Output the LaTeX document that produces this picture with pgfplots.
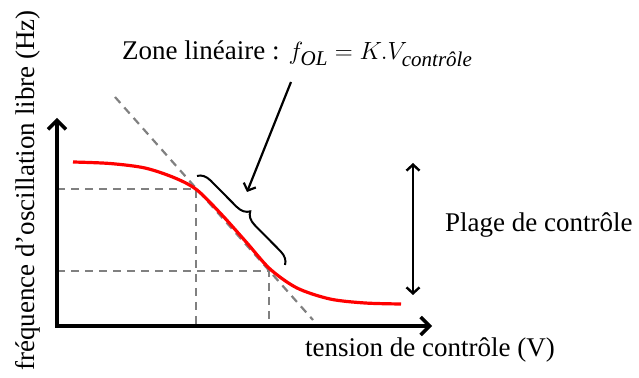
\documentclass[border=0pt]{standalone}
\usepackage{fontspec}
\setmainfont{Liberation Serif}
\usepackage{amsmath}
\usepackage{pgfplots}
\pgfplotsset{compat=1.18}
\usetikzlibrary{arrows.meta,decorations.pathreplacing}
\definecolor{dashgray}{RGB}{128,128,128}
\tikzset{lbl/.style={font=\fontsize{27}{32}\selectfont, inner sep=0pt},
  guide/.style={dashgray, line width=2.2pt, dash pattern=on 8pt off 6pt}}
\newcommand{\sub}[1]{\text{\fontsize{21}{24}\selectfont\itshape #1}}

\begin{document}
\begin{tikzpicture}
\begin{axis}[scale only axis, width=639pt, height=377pt,
  xmin=0, xmax=639, ymin=0, ymax=377, axis lines=none, clip=false]
% guide lines
\addplot[guide] coordinates {(115,280) (313,57)};
\addplot[guide] coordinates {(57,188) (196,188) (196,51)};
\addplot[guide] coordinates {(57,106) (269,106) (269,51)};
% characteristic
\addplot[red, line width=3.2pt, smooth] coordinates {
  (73,215) (110,213.5) (145,209) (175,199) (197,187) (222,162)
  (247,134) (270,108) (297,89) (330,78) (365,74) (401,73)};
% axes
\draw[line width=4pt, -{Straight Barb[length=9pt,width=18pt,line width=3.5pt]}] (axis cs:57,49) -- (axis cs:57,259);
\draw[line width=4pt, -{Straight Barb[length=9pt,width=18pt,line width=3.5pt]}] (axis cs:55,51) -- (axis cs:432,51);
% annotations
\draw[decorate, decoration={brace, amplitude=13pt}, line width=2pt] (axis cs:197,201) -- (axis cs:285,112);
\draw[line width=2.2pt, -{Straight Barb[length=6pt,width=13pt,line width=2.2pt]}] (axis cs:291,295) -- (axis cs:247,185);
\draw[line width=2.4pt, {Straight Barb[length=6pt,width=13pt,line width=2.4pt]}-{Straight Barb[length=6pt,width=13pt,line width=2.4pt]}] (axis cs:413,214) -- (axis cs:413,82);
\node[lbl, anchor=base west] at (axis cs:122,317) {Zone linéaire : $f_{\sub{OL}} = K.V_{\sub{contrôle}}$};
\node[lbl, anchor=base west] at (axis cs:445,145) {Plage de contrôle};
\node[lbl, anchor=base west] at (axis cs:305,20) {tension de contrôle (V)};
\node[lbl, anchor=base east, rotate=90] at (axis cs:34,367) {fréquence d’oscillation libre (Hz)};
\end{axis}
\pgfresetboundingbox
\path (current axis.south west) rectangle (current axis.north east);
\end{tikzpicture}
\end{document}
